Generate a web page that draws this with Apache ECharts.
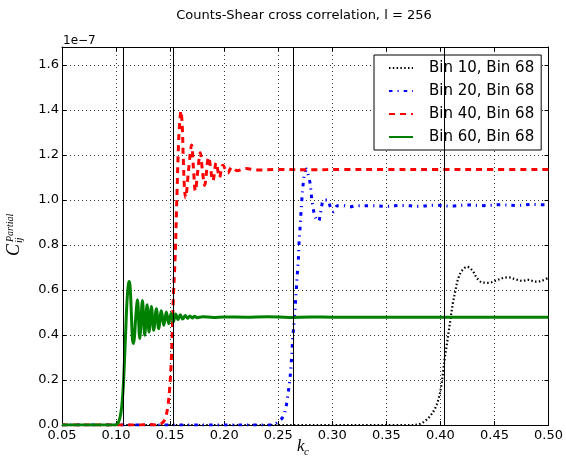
<!DOCTYPE html>
<html><head><meta charset="utf-8">
<script src="https://cdn.jsdelivr.net/npm/echarts@6/dist/echarts.min.js"></script>
<style>html,body{margin:0;padding:0;background:#fff}#c{width:566px;height:464px}</style>
</head><body><div id="c"></div>
<script>
const seriesNames = ['Bin 10, Bin 68', 'Bin 20, Bin 68', 'Bin 40, Bin 68', 'Bin 60, Bin 68'];
const xTicks = [0.05, 0.10, 0.15, 0.20, 0.25, 0.30, 0.35, 0.40, 0.45, 0.50];
const yTicks = [0.0, 0.2, 0.4, 0.6, 0.8, 1.0, 1.2, 1.4, 1.6];
const vLines = [0.1064, 0.1526, 0.2635, 0.4038];

const bin10 = [[0.05,0],[0.375,0],[0.3817,0.006],[0.3863,0.02],[0.3909,0.042],[0.3955,0.078],[0.3986,0.122],[0.401,0.18],[0.4026,0.24],[0.4041,0.3],[0.406,0.36],[0.4078,0.42],[0.4096,0.48],[0.4115,0.54],[0.414,0.6],[0.4164,0.65],[0.4201,0.687],[0.4247,0.703],[0.4293,0.688],[0.434,0.652],[0.4385,0.634],[0.4447,0.632],[0.4508,0.641],[0.457,0.652],[0.4631,0.656],[0.4693,0.648],[0.4754,0.641],[0.4816,0.645],[0.4877,0.637],[0.4939,0.641],[0.5,0.655]];

const bin20 = [[0.05,0],[0.244,0],[0.248,0.007],[0.2535,0.03],[0.2563,0.06],[0.2587,0.126],[0.2606,0.196],[0.2618,0.259],[0.2627,0.329],[0.2636,0.397],[0.2648,0.465],[0.2658,0.533],[0.2667,0.6],[0.2676,0.668],[0.2686,0.736],[0.2692,0.803],[0.2701,0.871],[0.271,0.941],[0.2719,1.007],[0.2732,1.077],[0.2746,1.12],[0.2762,1.138],[0.2778,1.11],[0.2793,1.079],[0.2802,1.044],[0.2809,1.01],[0.2818,0.978],[0.2833,0.94],[0.2852,0.915],[0.2873,0.905],[0.2888,0.935],[0.2901,0.97],[0.2919,1.0],[0.2956,1.0],[0.2985,0.965],[0.3011,0.948],[0.3048,0.975],[0.3104,0.975],[0.3165,0.97],[0.3233,0.975],[0.3356,0.975],[0.35,0.972],[0.365,0.976],[0.38,0.972],[0.395,0.977],[0.41,0.973],[0.425,0.978],[0.44,0.975],[0.455,0.979],[0.47,0.976],[0.485,0.98],[0.5,0.978]];

const bin40 = [[0.05,0],[0.12,0],[0.13,0.002],[0.138,0],[0.1425,0.008],[0.1455,0.03],[0.1478,0.08],[0.1497,0.17],[0.1511,0.29],[0.1521,0.43],[0.1531,0.58],[0.1546,0.74],[0.1562,1.0],[0.1577,1.24],[0.1588,1.34],[0.16,1.395],[0.1612,1.33],[0.1622,1.18],[0.1632,1.06],[0.1643,1.01],[0.167,1.13],[0.1699,1.245],[0.1716,1.14],[0.1733,1.04],[0.1756,1.13],[0.1779,1.21],[0.1799,1.13],[0.1819,1.065],[0.1856,1.19],[0.1896,1.085],[0.1926,1.165],[0.1957,1.1],[0.1988,1.155],[0.2034,1.12],[0.207,1.145],[0.212,1.13],[0.22,1.14],[0.23,1.133],[0.25,1.136],[0.28,1.134],[0.31,1.136],[0.35,1.135],[0.4,1.136],[0.45,1.135],[0.5,1.136]];

const bin60 = [[0.05,0],[0.099,0],[0.1015,0.006],[0.1035,0.03],[0.1052,0.08],[0.1064,0.15],[0.1073,0.23],[0.108,0.31],[0.1086,0.38],[0.1092,0.45],[0.1098,0.52],[0.1106,0.585],[0.1114,0.625],[0.1121,0.638],[0.1129,0.62],[0.1137,0.55],[0.1145,0.45],[0.1152,0.38],[0.116,0.362],[0.117,0.39],[0.1182,0.48],[0.1198,0.557],[0.1219,0.384],[0.1244,0.553],[0.1265,0.399],[0.1287,0.535],[0.1305,0.413],[0.1327,0.527],[0.1348,0.421],[0.1373,0.517],[0.1394,0.428],[0.1419,0.508],[0.1441,0.443],[0.1465,0.502],[0.1487,0.45],[0.1508,0.496],[0.153,0.458],[0.1551,0.493],[0.1573,0.468],[0.1594,0.49],[0.1616,0.471],[0.164,0.487],[0.1662,0.474],[0.1683,0.485],[0.1705,0.476],[0.1726,0.483],[0.1748,0.477],[0.18,0.481],[0.19,0.478],[0.2,0.48],[0.22,0.479],[0.24,0.481],[0.26,0.478],[0.28,0.48],[0.3,0.479],[0.35,0.479],[0.4,0.479],[0.45,0.479],[0.5,0.479]];

const FONT = 'DejaVu Sans';
const chart = echarts.init(document.getElementById('c'), null, {renderer: 'canvas'});

function xAxisDef(pos, labels) {
  return {
    type: 'value', position: pos, min: 0.05, max: 0.5, interval: 0.05,
    axisLine: {show: true, onZero: false, lineStyle: {color: '#000', width: 1}},
    axisTick: {show: true, inside: true, length: 4, lineStyle: {color: '#000', width: 1}, customValues: xTicks},
    axisLabel: {show: labels, customValues: xTicks, fontSize: 13, fontFamily: FONT, color: '#000', margin: 4,
      formatter: v => Number(v).toFixed(2)},
    splitLine: {show: labels, lineStyle: {color: '#000', width: 0.8, type: [1, 3]}}
  };
}
function yAxisDef(pos, labels) {
  return {
    type: 'value', position: pos, min: 0, max: 1.68, interval: 0.2,
    axisLine: {show: true, onZero: false, lineStyle: {color: '#000', width: 1}},
    axisTick: {show: true, inside: true, length: 4, lineStyle: {color: '#000', width: 1}, customValues: yTicks},
    axisLabel: {show: labels, customValues: yTicks, fontSize: 13, fontFamily: FONT, color: '#000', margin: 3,
      formatter: v => Number(v).toFixed(1)},
    splitLine: {show: labels, lineStyle: {color: '#000', width: 0.8, type: [1, 3]}}
  };
}

const styles = [
  {color: '#000000', width: 2.2, type: [1.5, 2.3]},
  {color: '#0000ff', width: 3, type: [3.5, 5, 1.2, 5]},
  {color: '#ff0000', width: 3, type: [6, 5]},
  {color: '#008000', width: 3, type: 'solid'}
];
const datas = [bin10, bin20, bin40, bin60];

const series = [{
  type: 'line', name: 'vlines', data: [[0.05, 0]], symbol: 'none',
  lineStyle: {opacity: 0}, silent: true,
  markLine: {silent: true, precision: 6, symbol: ['none', 'none'], label: {show: false},
    lineStyle: {color: '#000', width: 1, type: 'solid'}, animation: false,
    data: vLines.map(v => ({xAxis: v}))}
}];
seriesNames.forEach((n, i) => {
  series.push({
    type: 'line', name: n, data: datas[i], symbol: 'none', showSymbol: false,
    smooth: 0.35, color: styles[i].color,
    lineStyle: {color: styles[i].color, width: styles[i].width, type: styles[i].type, cap: 'butt'},
    xAxisIndex: 0, yAxisIndex: 0
  });
});

chart.setOption({
  animation: false,
  backgroundColor: '#fff',
  grid: {left: 62, right: 16, top: 47, bottom: 39, containLabel: false},
  xAxis: [xAxisDef('bottom', true), xAxisDef('top', false)],
  yAxis: [yAxisDef('left', true), yAxisDef('right', false)],
  legend: {
    data: seriesNames, orient: 'vertical', left: 374, top: 55,
    itemWidth: 24, itemHeight: 14, itemGap: 5, padding: [4, 7, 4, 14],
    borderColor: '#000', borderWidth: 1, borderRadius: 0, backgroundColor: '#fff',
    itemStyle: {opacity: 0},
    textStyle: {fontSize: 15, fontFamily: FONT, color: '#000', lineHeight: 18, padding: [0, 0, 0, 11]}
  },
  graphic: [
    {type: 'text', x: 304, y: 16, silent: true,
      style: {text: 'Counts-Shear cross correlation, l = 256', fontSize: 13, fontFamily: FONT, fill: '#000', align: 'center', verticalAlign: 'middle'}},
    {type: 'text', x: 63, y: 41, silent: true,
      style: {text: '1e\u22127', fontSize: 12, fontFamily: FONT, fill: '#000', align: 'left', verticalAlign: 'middle'}},
    {type: 'group', x: 14, y: 256, rotation: Math.PI / 2, silent: true, children: [
      {type: 'text', x: 0, y: 0, style: {text: 'C', fontSize: 18, fontStyle: 'italic', fontFamily: 'Liberation Serif', fill: '#000', align: 'left', verticalAlign: 'middle'}},
      {type: 'text', x: 14, y: -4, style: {text: 'Partial', fontSize: 10, fontStyle: 'italic', fontFamily: 'Liberation Serif', fill: '#000', align: 'left', verticalAlign: 'middle'}},
      {type: 'text', x: 13, y: 5, style: {text: 'ij', fontSize: 10, fontStyle: 'italic', fontFamily: 'Liberation Serif', fill: '#000', align: 'left', verticalAlign: 'middle'}}
    ]},
    {type: 'text', x: 297, y: 447, silent: true,
      style: {text: 'k', fontSize: 17, fontStyle: 'italic', fontFamily: 'Liberation Serif', fill: '#000', align: 'left', verticalAlign: 'middle'}},
    {type: 'text', x: 304, y: 452, silent: true,
      style: {text: 'c', fontSize: 11, fontStyle: 'italic', fontFamily: 'Liberation Serif', fill: '#000', align: 'left', verticalAlign: 'middle'}}
  ],
  series: series
});
</script>
</body></html>
